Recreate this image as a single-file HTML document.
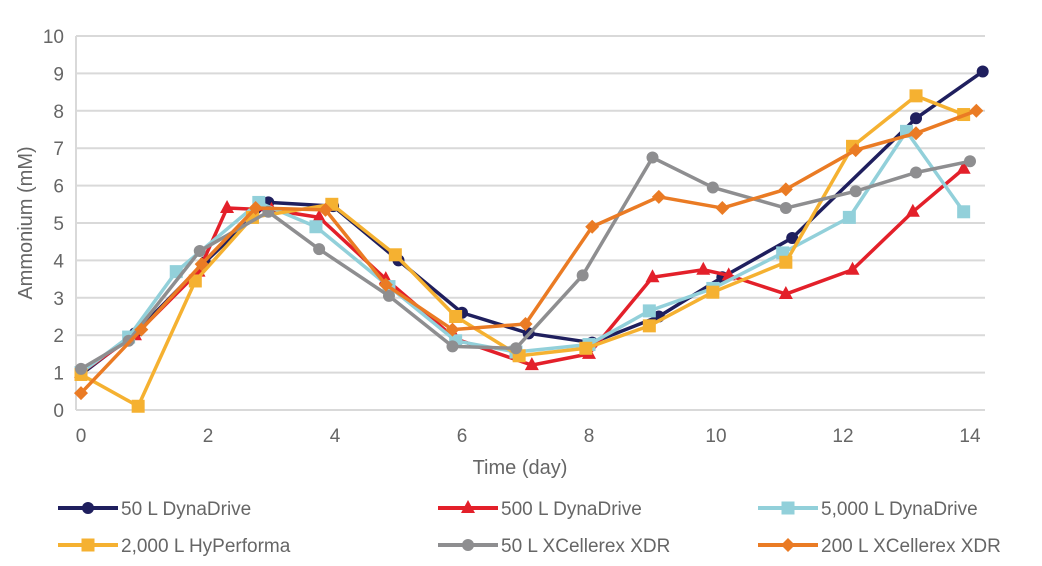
<!DOCTYPE html>
<html><head><meta charset="utf-8"><style>
body{margin:0;background:#fff;}
svg{display:block;font-family:"Liberation Sans",sans-serif;}
</style></head><body>
<svg id="chart" width="1042" height="566"></svg>
<script>
const days=[0,1,2,3,4,5,6,7,8,9,10,11,12,13,14];
const xTicks=[0,2,4,6,8,10,12,14];
const yTicks=[0,1,2,3,4,5,6,7,8,9,10];
const s50DD_x=[0,0.85,1.95,2.95,3.97,5,6,7.05,8.05,9.1,10.1,11.2,13.15,14.2];
const s50DD_y=[0.95,2.05,3.95,5.55,5.45,4.0,2.6,2.05,1.8,2.5,3.55,4.6,7.8,9.05];
const s500DD_x=[0,0.85,1.85,2.3,3.0,3.75,4.8,5.9,7.1,8.0,9.0,9.8,10.2,11.1,12.15,13.1,13.9];
const s500DD_y=[1.0,2.0,3.7,5.4,5.35,5.15,3.5,1.9,1.2,1.5,3.55,3.75,3.6,3.1,3.75,5.3,6.45];
const s5000DD_x=[0,0.75,1.5,2.8,3.7,4.85,5.9,6.85,8.0,8.95,9.95,11.05,12.1,13.0,13.9];
const s5000DD_y=[1.0,1.95,3.7,5.55,4.9,3.3,1.85,1.55,1.75,2.65,3.25,4.2,5.15,7.45,5.3];
const s2000HP_x=[0,0.9,1.8,2.7,3.95,4.95,5.9,6.9,7.95,8.95,9.95,11.1,12.15,13.15,13.9];
const s2000HP_y=[0.95,0.1,3.45,5.15,5.5,4.15,2.5,1.45,1.65,2.25,3.15,3.95,7.05,8.4,7.9];
const s50X_x=[0,0.75,1.87,2.95,3.75,4.85,5.85,6.85,7.9,9.0,9.95,11.1,12.2,13.15,14.0];
const s50X_y=[1.1,1.85,4.25,5.3,4.3,3.05,1.7,1.65,3.6,6.75,5.95,5.4,5.85,6.35,6.65];
const s200X_x=[0,0.95,1.9,2.75,3.85,4.8,5.85,7.0,8.05,9.1,10.1,11.1,12.2,13.15,14.1];
const s200X_y=[0.45,2.15,3.9,5.4,5.35,3.35,2.15,2.3,4.9,5.7,5.4,5.9,6.95,7.4,8.0];
const seriesNames=["50 L DynaDrive","500 L DynaDrive","5,000 L DynaDrive","2,000 L HyPerforma","50 L XCellerex XDR","200 L XCellerex XDR"];

const NS="http://www.w3.org/2000/svg";
const svg=document.getElementById('chart');
const X=d=>81+d*63.5, Y=v=>410-v*37.4;
function el(t,a,p){const e=document.createElementNS(NS,t);for(const k in a)e.setAttribute(k,a[k]);(p||svg).appendChild(e);return e;}
yTicks.forEach(v=>{
 const g=el('line',{x1:76,x2:985,y1:Y(v),y2:Y(v),stroke:'#d9d9d9','stroke-width':2});
 
 
 const t=el('text',{x:64,y:Y(v)+7,'text-anchor':'end','font-size':19,fill:'#666'});t.textContent=v;
 
 
});
const ax=el('line',{x1:76,x2:76,y1:Y(10),y2:Y(0),stroke:'#d9d9d9','stroke-width':2});


xTicks.forEach(d=>{
 const t=el('text',{x:X(d),y:442,'text-anchor':'middle','font-size':19,fill:'#666'});t.textContent=d;
 
 
});
const xt=el('text',{x:520,y:474,'text-anchor':'middle','font-size':20,fill:'#666'});xt.textContent='Time (day)';


const yt=el('text',{x:0,y:0,'text-anchor':'middle','font-size':20,fill:'#666',transform:'translate(32,223) rotate(-90)'});yt.textContent='Ammonium (mM)';



function marker(type,x,y,c,g){
 if(type==='circle')return el('circle',{cx:x,cy:y,r:6,fill:c},g);
 if(type==='square')return el('rect',{x:x-6.5,y:y-6.5,width:13,height:13,fill:c},g);
 if(type==='tri')return el('polygon',{points:`${x},${y-8} ${x+7},${y+5} ${x-7},${y+5}`,fill:c},g);
 return el('polygon',{points:`${x},${y-7} ${x+7},${y} ${x},${y+7} ${x-7},${y}`,fill:c},g);
}
const series=[
 {xs:s50DD_x,ys:s50DD_y,c:'#1f1f5e',m:'circle'},
 {xs:s500DD_x,ys:s500DD_y,c:'#e3202a',m:'tri'},
 {xs:s5000DD_x,ys:s5000DD_y,c:'#92d0da',m:'square'},
 {xs:s2000HP_x,ys:s2000HP_y,c:'#f5b131',m:'square'},
 {xs:s50X_x,ys:s50X_y,c:'#8e8e90',m:'circle'},
 {xs:s200X_x,ys:s200X_y,c:'#ea7b24',m:'diamond'}
];
const legPos=[[58,508],[438,508],[758,508],[58,545],[438,545],[758,545]];
series.forEach((s,i)=>{
 const g=el('g',{});
 
 
 const pts=s.xs.map((d,j)=>X(d)+','+Y(s.ys[j])).join(' ');
 el('polyline',{points:pts,fill:'none',stroke:s.c,'stroke-width':3.5,'stroke-linejoin':'round'},g);
 s.xs.forEach((d,j)=>{const m=marker(s.m,X(d),Y(s.ys[j]),s.c,g);
  
  });
 const [lx,ly]=legPos[i];
 const lg=el('g',{});
 
 
 el('line',{x1:lx,x2:lx+60,y1:ly,y2:ly,stroke:s.c,'stroke-width':4},lg);
 marker(s.m,lx+30,ly,s.c,lg);
 const t=el('text',{x:lx+63,y:ly+7,'font-size':19,fill:'#666'},lg);t.textContent=seriesNames[i];
});
</script>
</body></html>
